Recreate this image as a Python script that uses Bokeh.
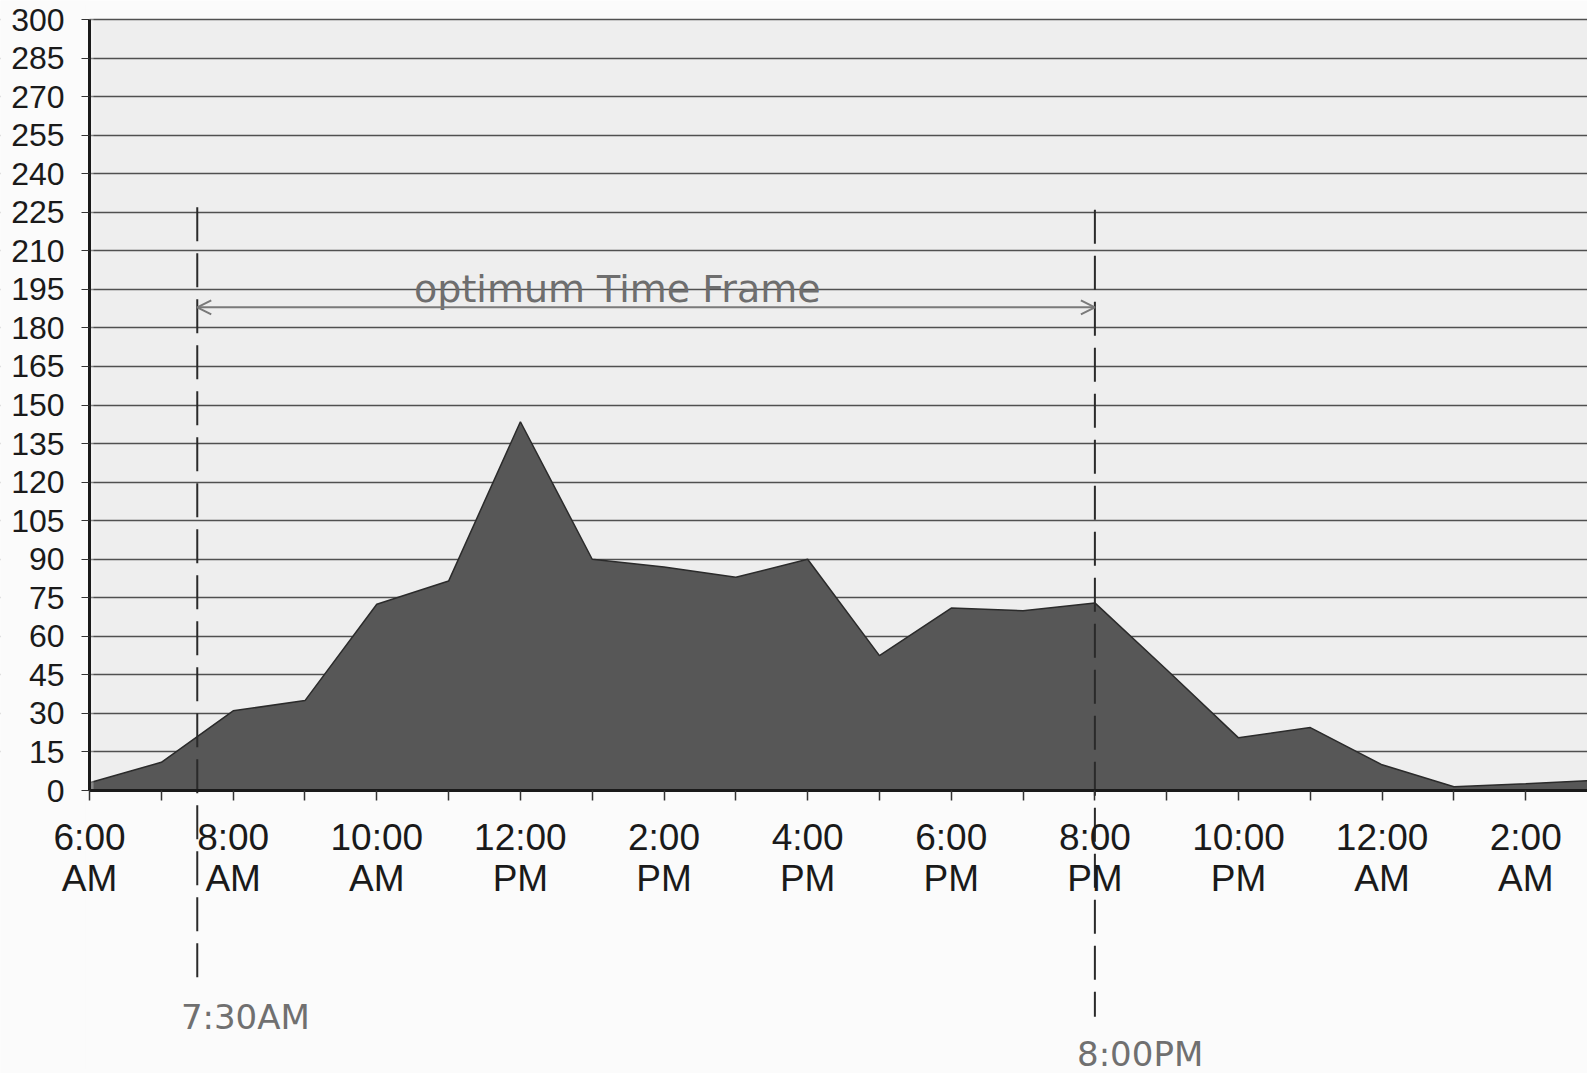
from bokeh.plotting import figure
from bokeh.models import FixedTicker, Range1d, BoxAnnotation, Arrow, OpenHead, LinearAxis
from bokeh.core.properties import value
from bokeh.embed import file_html
from bokeh.resources import INLINE

# hours after 6:00 AM
hours = list(range(0, 22))
visits = [3, 11, 31, 35, 72.5, 81.5, 143.5, 90, 87, 83, 90, 52.5, 71, 70, 73, 47,
          20.5, 24.5, 10, 1.5, 2.6, 4]

tick_hours = list(range(0, 21, 2))
tick_labels = ["6:00\nAM", "8:00\nAM", "10:00\nAM", "12:00\nPM", "2:00\nPM", "4:00\nPM",
               "6:00\nPM", "8:00\nPM", "10:00\nPM", "12:00\nAM", "2:00\nAM"]
y_ticks = list(range(0, 301, 15))

marker_hours = [1.5, 14.0]
marker_top = [227, 226]
marker_bottom = [-74, -88]
marker_labels = ["7:30AM", "8:00PM"]
marker_label_x = [2.17, 14.63]
marker_label_y = [-88, -102.5]
frame_title = "optimum Time Frame"
frame_title_x = 7.35
frame_title_y = 186.5
arrow_y = 188

p = figure(width=1587, height=1073, output_backend="svg", toolbar_location=None,
           x_range=Range1d(-1.24, 20.86), y_range=Range1d(-110.1, 307.4),
           min_border_left=0, min_border_right=0, min_border_top=0, min_border_bottom=0,
           x_axis_location=None, y_axis_location=None)
p.background_fill_color = "#fbfbfb"
p.border_fill_color = "#fbfbfb"
p.outline_line_color = None

# plot-area background (below the grid)
p.add_layout(BoxAnnotation(left=0, bottom=0, top=300, fill_color="#eeeeee",
                           fill_alpha=1.0, line_color=None, level="image"))

p.xgrid.visible = False
p.ygrid.ticker = FixedTicker(ticks=y_ticks[1:])
p.ygrid.grid_line_color = "#505050"
p.ygrid.grid_line_width = 1.5

# hide grid lines left of the y axis
p.add_layout(BoxAnnotation(right=0, fill_color="#fbfbfb", fill_alpha=1.0,
                           line_color="#fbfbfb", line_width=8, level="glyph"))

# axes
xaxis = LinearAxis(ticker=FixedTicker(ticks=hours[:21]), fixed_location=0, bounds=(0, 21))
xaxis.major_label_overrides = {h: "" for h in range(21)}
xaxis.major_label_overrides.update({h: l for h, l in zip(tick_hours, tick_labels)})
xaxis.major_label_text_font = "Liberation Sans"
xaxis.major_label_text_font_size = "37px"
xaxis.major_label_text_line_height = 1.0
xaxis.major_label_text_color = "#1a1a1a"
xaxis.axis_line_width = 3
xaxis.axis_line_color = "#1a1a1a"
xaxis.major_tick_out = 10
xaxis.major_tick_in = 0
xaxis.major_tick_line_color = "#333333"
xaxis.major_tick_line_width = 1.5
xaxis.minor_tick_line_color = None
xaxis.major_label_standoff = 16
xaxis.major_label_orientation = "horizontal"
p.add_layout(xaxis, "below")

yaxis = LinearAxis(ticker=FixedTicker(ticks=y_ticks), fixed_location=0, bounds=(0, 300))
yaxis.major_label_text_font = "Liberation Sans"
yaxis.major_label_text_font_size = "32px"
yaxis.major_label_text_color = "#1a1a1a"
yaxis.axis_line_width = 3
yaxis.axis_line_color = "#1a1a1a"
yaxis.major_tick_out = 8
yaxis.major_tick_in = 0
yaxis.major_tick_line_color = "#333333"
yaxis.minor_tick_line_color = None
yaxis.major_label_standoff = 17
p.add_layout(yaxis, "left")

# area
p.varea(x=hours, y1=0, y2=visits, fill_color="#575757", fill_alpha=1.0)
p.line(x=hours, y=visits, line_color="#2b2b2b", line_width=1.5)

# annotations
p.segment(x0=marker_hours, y0=marker_top, x1=marker_hours, y1=marker_bottom,
          line_color="#2a2a2a", line_width=2, line_dash="34 12")
p.add_layout(Arrow(x_start=marker_hours[0], x_end=marker_hours[1], y_start=arrow_y, y_end=arrow_y,
                   line_color="#7a7a7a", line_width=2,
                   start=OpenHead(size=14, line_color="#7a7a7a", line_width=2),
                   end=OpenHead(size=14, line_color="#7a7a7a", line_width=2)))
p.text(x=[frame_title_x], y=[frame_title_y], text=[frame_title], text_align="center",
       text_baseline="bottom", text_font=value("DejaVu Sans"), text_font_size="38px",
       text_color="#6e6e6e")
p.text(x=marker_label_x, y=marker_label_y, text=marker_labels, text_align="center",
       text_baseline="middle", text_font=value("DejaVu Sans"), text_font_size="34px",
       text_color="#707070")

open("out.html", "w").write(file_html(p, INLINE))
